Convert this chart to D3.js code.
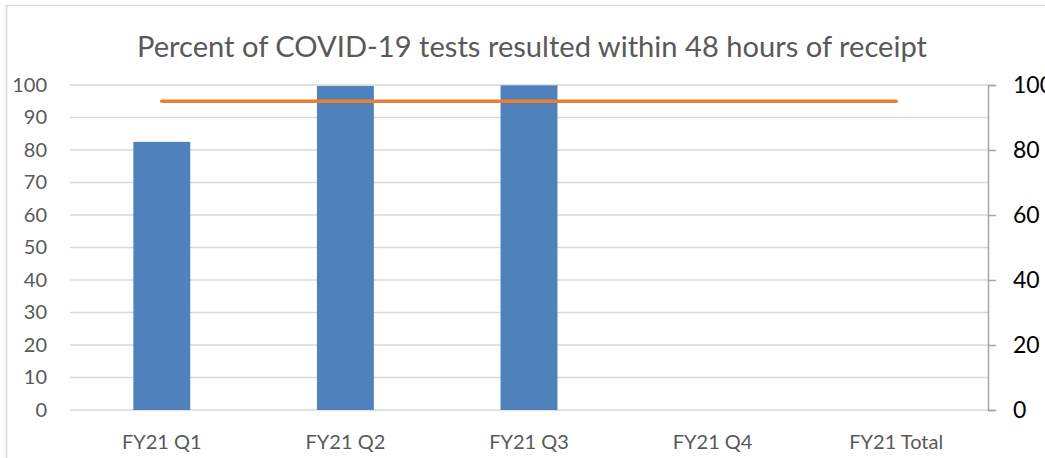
<!DOCTYPE html>
<meta charset="utf-8">
<style>
  body { margin: 0; background: #fff; }
  text { font-family: Lato, "Liberation Sans", sans-serif; }
</style>
<script src="https://d3js.org/d3.v7.min.js"></script>
<div id="chart"></div>
<script>

// data
var categories = ["FY21 Q1", "FY21 Q2", "FY21 Q3", "FY21 Q4", "FY21 Total"];
var percentResulted = [82.5, 99.7, 99.9, null, null];
var target = [95, 95, 95, 95, 95];
var leftTicks = [0, 10, 20, 30, 40, 50, 60, 70, 80, 90, 100];
var rightTicks = [0, 20, 40, 60, 80, 100];

var W = 1045, H = 458;
var margin = {top: 85, right: 57, bottom: 48, left: 70},
    width = W - margin.left - margin.right,
    height = H - margin.top - margin.bottom;

var root = d3.select("#chart").append("svg")
    .attr("width", W)
    .attr("height", H);

// chart frame
root.append("rect")
    .attr("x", 6.5).attr("y", 5.5)
    .attr("width", W + 10).attr("height", H + 10)
    .attr("fill", "none")
    .attr("stroke", "#d9d9d9")
    .attr("stroke-width", 1.5);

root.append("text")
    .attr("x", 532).attr("y", 57)
    .attr("text-anchor", "middle")
    .style("font-size", "28px")
    .style("fill", "#595959")
    .attr("textLength", 790)
    .attr("lengthAdjust", "spacingAndGlyphs")
    .text("Percent of COVID-19 tests resulted within 48 hours of receipt");

var svg = root.append("g")
    .attr("transform", "translate(" + margin.left + "," + margin.top + ")");

var x = d3.scaleBand()
    .domain(categories)
    .range([0, width])
    .paddingInner(0.69)
    .paddingOuter(0.345);

var xc = d3.scalePoint()
    .domain(categories)
    .range([0, width])
    .padding(0.5);

var y = d3.scaleLinear().domain([0, 100]).range([height, 0]);
var y2 = d3.scaleLinear().domain([0, 100]).range([height, 0]);

// gridlines
svg.append("g")
  .selectAll("line")
  .data(leftTicks)
  .enter().append("line")
    .attr("x1", 0).attr("x2", width)
    .attr("y1", function(d) { return y(d); })
    .attr("y2", function(d) { return y(d); })
    .attr("stroke", "#d9d9d9")
    .attr("stroke-width", 1.5);

// left axis
var yAxis = svg.append("g")
    .call(d3.axisLeft(y).tickValues(leftTicks).tickSize(0).tickPadding(23));
yAxis.select(".domain").remove();
yAxis.selectAll("text")
    .style("font-size", "20px")
    .style("fill", "#595959")
    .style("font-family", "Lato, sans-serif");

// right axis
var yAxis2 = svg.append("g")
    .attr("transform", "translate(" + width + ",0)")
    .call(d3.axisRight(y2).tickValues(rightTicks).tickSize(8).tickPadding(17));
yAxis2.select(".domain").attr("stroke", "#a6a6a6").attr("stroke-width", 1.5);
yAxis2.selectAll(".tick line").attr("stroke", "#a6a6a6").attr("stroke-width", 1.5);
yAxis2.selectAll("text")
    .style("font-size", "23px")
    .style("fill", "#000")
    .style("font-family", "Lato, sans-serif");

// bottom axis labels
var xAxis = svg.append("g")
    .attr("transform", "translate(0," + height + ")")
    .call(d3.axisBottom(x).tickSize(0).tickPadding(25));
xAxis.select(".domain").remove();
xAxis.selectAll("text")
    .style("font-size", "20px")
    .style("fill", "#595959")
    .style("font-family", "Lato, sans-serif");

// bars
svg.selectAll("rect.bar")
    .data(categories.map(function(c, i) { return {cat: c, v: percentResulted[i]}; })
      .filter(function(d) { return d.v != null; }))
    .enter().append("rect")
      .attr("class", "bar")
      .attr("x", function(d) { return x(d.cat); })
      .attr("width", x.bandwidth())
      .attr("y", function(d) { return y(d.v); })
      .attr("height", function(d) { return height - y(d.v); })
      .attr("fill", "#4f81bd");

// target line
var line = d3.line()
    .x(function(d, i) { return xc(categories[i]); })
    .y(function(d) { return y2(d); });

svg.append("path")
    .datum(target)
    .attr("d", line)
    .attr("fill", "none")
    .attr("stroke", "#ed7d31")
    .attr("stroke-width", 3.5)
    .attr("stroke-linecap", "round");

</script>
